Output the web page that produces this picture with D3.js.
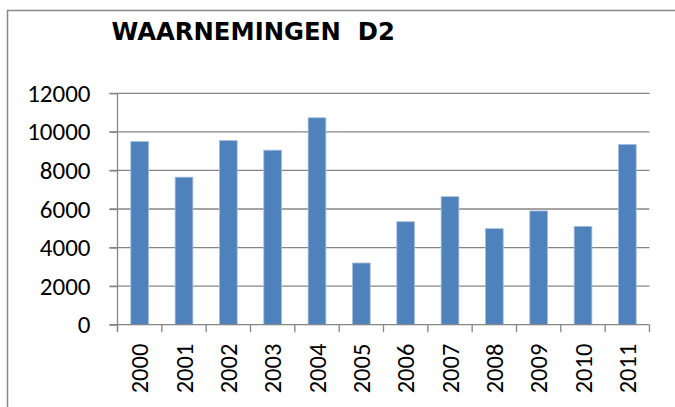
<!DOCTYPE html>
<html>
<head>
<meta charset="utf-8">
<script src="https://cdn.jsdelivr.net/npm/d3@7"></script>
<style>
  body { margin: 0; background: #fff; }
  svg { display: block; }
</style>
</head>
<body>
<svg id="chart" width="675" height="407"></svg>
<script>
const years = ['2000', '2001', '2002', '2003', '2004', '2005', '2006', '2007', '2008', '2009', '2010', '2011'];
const waarnemingen = [9500, 7650, 9550, 9050, 10730, 3200, 5340, 6640, 4980, 5900, 5100, 9350];
const yTicks = [0, 2000, 4000, 6000, 8000, 10000, 12000];
const title = 'WAARNEMINGEN\u00a0\u00a0D2';

const svg = d3.select('#chart');
const DIM = { left: 117.5, right: 649.5, top: 93.3, bottom: 324.7 };
const gridColor = '#868686';
const labelFont = 'Carlito, Liberation Sans, sans-serif';

// chart frame (only top and left edge visible in the crop)
svg.append('path')
  .attr('d', 'M7.5,407 L7.5,10.5 L675,10.5')
  .attr('fill', 'none')
  .attr('stroke', '#8a8a8a')
  .attr('stroke-width', 1.5);

svg.append('text')
  .text(title)
  .attr('x', 111.5)
  .attr('y', 40)
  .attr('font-family', 'DejaVu Sans')
  .attr('font-weight', 'bold')
  .attr('font-size', 24.3)
  .attr('fill', '#000');

const xScale = d3.scaleBand()
  .domain(years)
  .range([DIM.left, DIM.right])
  .paddingInner(0.6)
  .paddingOuter(0.3);

const yScale = d3.scaleLinear()
  .domain([0, 12000])
  .range([DIM.bottom, DIM.top]);

// gridlines
svg.append('g').attr('id', 'grid')
  .selectAll('line')
  .data(yTicks.filter(d => d > 0))
  .join('line')
  .attr('x1', DIM.left - 8)
  .attr('x2', DIM.right)
  .attr('y1', d => yScale(d))
  .attr('y2', d => yScale(d))
  .attr('stroke', gridColor)
  .attr('stroke-width', 1.3);

// bars
svg.append('g').attr('id', 'bars')
  .selectAll('rect')
  .data(years.map((y, i) => ({ year: y, value: waarnemingen[i] })))
  .join('rect')
  .attr('x', d => xScale(d.year))
  .attr('width', xScale.bandwidth())
  .attr('y', d => yScale(d.value))
  .attr('height', d => yScale(0) - yScale(d.value))
  .attr('fill', '#4f81bd')
  .attr('stroke', '#a7bfde')
  .attr('stroke-width', 0.8);

// y axis
const yAxis = svg.append('g')
  .attr('transform', `translate(${DIM.left},0)`)
  .call(d3.axisLeft(yScale).tickValues(yTicks).tickFormat(d3.format('d'))
    .tickSize(8).tickPadding(19).tickSizeOuter(0));
yAxis.select('.domain').attr('stroke', gridColor).attr('stroke-width', 1.3)
  .attr('d', `M0,${DIM.top}V${DIM.bottom + 7}`);
yAxis.selectAll('.tick line').attr('stroke', gridColor).attr('stroke-width', 1.3);
yAxis.selectAll('.tick text')
  .attr('font-family', labelFont)
  .attr('font-size', 25)
  .attr('fill', '#000');

// x axis with ticks on the category boundaries
const boundaries = years.map(y => xScale(y) - xScale.step() * xScale.paddingInner() / 2)
  .concat([DIM.right]);
const xAxis = svg.append('g').attr('id', 'x-axis');
xAxis.append('line')
  .attr('x1', DIM.left - 8).attr('x2', DIM.right)
  .attr('y1', yScale(0)).attr('y2', yScale(0))
  .attr('stroke', gridColor).attr('stroke-width', 1.3);
xAxis.selectAll('.xtick')
  .data(boundaries)
  .join('line')
  .attr('class', 'xtick')
  .attr('x1', d => d).attr('x2', d => d)
  .attr('y1', yScale(0)).attr('y2', yScale(0) + 7.5)
  .attr('stroke', gridColor).attr('stroke-width', 1.3);
xAxis.selectAll('text')
  .data(years)
  .join('text')
  .text(d => d)
  .attr('transform', d => `translate(${xScale(d) + xScale.bandwidth() / 2 + 8.5},${yScale(0) + 19}) rotate(-90)`)
  .attr('text-anchor', 'end')
  .attr('font-family', labelFont)
  .attr('font-size', 24.5)
  .attr('fill', '#000');
</script>
</body>
</html>
